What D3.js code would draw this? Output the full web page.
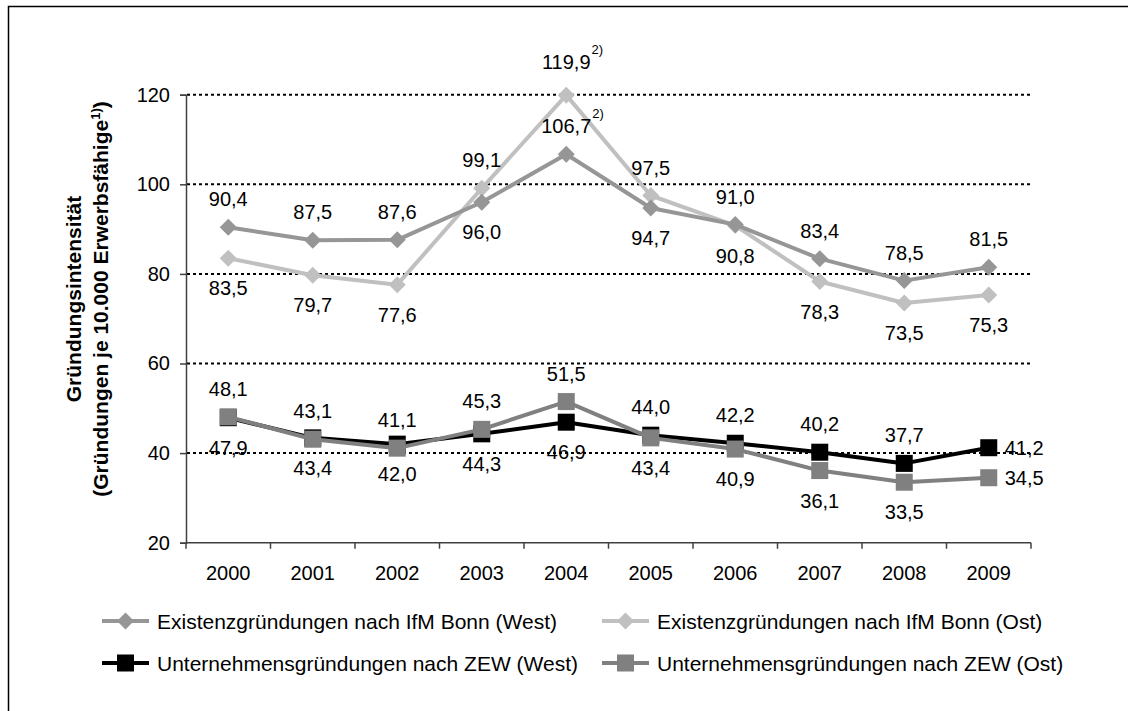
<!DOCTYPE html>
<html>
<head>
<meta charset="utf-8">
<script src="https://cdn.jsdelivr.net/npm/d3@7"></script>
<style>
  body { margin: 0; background: #fff; }
  svg { display: block; font-family: "Liberation Sans", Arial, sans-serif; }
  .grid { stroke: #000; stroke-width: 2; stroke-dasharray: 3,3; }
  .axis { stroke: #404040; stroke-width: 1.5; fill: none; }
  .lbl { font-size: 20px; fill: #000; }
  .leg { font-size: 21px; fill: #000; }
</style>
</head>
<body>
<svg id="svg"></svg>
<script>
// DATA
var years = [2000, 2001, 2002, 2003, 2004, 2005, 2006, 2007, 2008, 2009];
var yTicks = [20, 40, 60, 80, 100, 120];

var ifmWest = [90.4, 87.5, 87.6, 96.0, 106.7, 94.7, 91.0, 83.4, 78.5, 81.5];
var ifmOst  = [83.5, 79.7, 77.6, 99.1, 119.9, 97.5, 90.8, 78.3, 73.5, 75.3];
var zewWest = [47.9, 43.4, 42.0, 44.3, 46.9, 44.0, 42.2, 40.2, 37.7, 41.2];
var zewOst  = [48.1, 43.1, 41.1, 45.3, 51.5, 43.4, 40.9, 36.1, 33.5, 34.5];

var ifmNotes = ["", "", "", "", "2)", "", "", "", "", ""];

var seriesNames = [
  "Existenzgründungen nach IfM Bonn (West)",
  "Existenzgründungen nach IfM Bonn (Ost)",
  "Unternehmensgründungen nach ZEW (West)",
  "Unternehmensgründungen nach ZEW (Ost)"
];

// where each value label sits: a = above, b = below, r = right
var sideIfmWest = ["a","a","a","b","a","b","a","a","a","a"];
var sideIfmOst  = ["b","b","b","a","a","a","b","b","b","b"];
var sideZewWest = ["b","b","b","b","b","a","a","a","a","r"];
var sideZewOst  = ["a","a","a","a","a","b","b","b","b","r"];

var series = [
  {name: seriesNames[1], values: ifmOst,  color: "#c0c0c0", shape: "diamond", side: sideIfmOst,  notes: ifmNotes},
  {name: seriesNames[0], values: ifmWest, color: "#969696", shape: "diamond", side: sideIfmWest, notes: ifmNotes},
  {name: seriesNames[2], values: zewWest, color: "#000000", shape: "square",  side: sideZewWest, notes: null},
  {name: seriesNames[3], values: zewOst,  color: "#808080", shape: "square",  side: sideZewOst,  notes: null}
];

var svg = d3.select("#svg").attr("width", 1128).attr("height", 711);

// outer frame (runs off the right and bottom edges)
svg.append("rect")
  .attr("x", 8.5).attr("y", 6.5)
  .attr("width", 1300).attr("height", 900)
  .attr("fill", "none").attr("stroke", "#000").attr("stroke-width", 1.5);

var x = d3.scaleBand().domain(years).range([186, 1031]).padding(0);
var y = d3.scaleLinear().domain([20, 120]).range([542.7, 94.7]);
var cx = function(i){ return x(years[i]) + x.bandwidth() / 2; };

// gridlines
svg.selectAll(".grid").data(yTicks.slice(1)).enter()
  .append("line").attr("class", "grid")
  .attr("x1", 187).attr("x2", 1031)
  .attr("y1", d => y(d)).attr("y2", d => y(d));

// y axis
var yAxis = d3.axisLeft(y).tickValues(yTicks).tickSize(6).tickPadding(10);
var gy = svg.append("g").attr("transform", "translate(186,0)").call(yAxis);
gy.attr("font-family", null).attr("font-size", null);
gy.select(".domain").attr("stroke", "#404040").attr("stroke-width", 1.5);
gy.selectAll(".tick line").attr("stroke", "#404040").attr("stroke-width", 1.5);
gy.selectAll(".tick text").attr("class", "lbl");

// x axis (ticks between categories)
svg.append("line").attr("class", "axis")
  .attr("x1", 186).attr("x2", 1031).attr("y1", y(20)).attr("y2", y(20));
var bounds = years.map(d => x(d)).concat([x(years[years.length - 1]) + x.bandwidth()]);
svg.selectAll(".xtick").data(bounds).enter()
  .append("line").attr("class", "axis")
  .attr("x1", d => d).attr("x2", d => d)
  .attr("y1", y(20)).attr("y2", y(20) + 6);
svg.selectAll(".xlbl").data(years).enter()
  .append("text").attr("class", "lbl")
  .attr("x", d => x(d) + x.bandwidth() / 2)
  .attr("y", y(20) + 37)
  .attr("text-anchor", "middle")
  .text(d => d);

// y axis title
var title = svg.append("text")
  .attr("transform", "translate(80.5,299) rotate(-90)")
  .attr("text-anchor", "middle")
  .attr("font-size", 21).attr("font-weight", "bold");
title.append("tspan").attr("x", 0).attr("dy", 0).text("Gründungsintensität");
title.append("tspan").attr("x", 0).attr("dy", 27).text("(Gründungen je 10.000 Erwerbsfähige");
title.append("tspan").attr("font-size", 13).attr("dy", -8).text("1)");
title.append("tspan").attr("dy", 8).text(")");

// markers
function marker(g, shape, color, px, py) {
  if (shape === "diamond") {
    g.append("path")
      .attr("d", "M" + px + "," + (py - 8.5) + " L" + (px + 8.5) + "," + py +
                 " L" + px + "," + (py + 8.5) + " L" + (px - 8.5) + "," + py + " Z")
      .attr("fill", color);
  } else {
    g.append("rect")
      .attr("x", px - 8.5).attr("y", py - 8.5)
      .attr("width", 17).attr("height", 17)
      .attr("fill", color);
  }
}

var line = d3.line().x((d, i) => cx(i)).y(d => y(d));

series.forEach(function(s) {
  var g = svg.append("g");
  g.append("path").attr("d", line(s.values))
    .attr("fill", "none").attr("stroke", s.color).attr("stroke-width", 4)
    .attr("stroke-linejoin", "round");
  s.values.forEach(function(v, i) { marker(g, s.shape, s.color, cx(i), y(v)); });
});

// value labels
series.forEach(function(s) {
  s.values.forEach(function(v, i) {
    var px = cx(i), py = y(v), side = s.side[i];
    var up = (s.notes && s.notes[i]) ? (v > 110 ? 33 : 28) : 28;
    var t = svg.append("text").attr("class", "lbl")
      .attr("dominant-baseline", "central")
      .text(d3.format(".1f")(v).replace(".", ","));
    if (side === "r") {
      t.attr("x", px + 16).attr("y", py).attr("text-anchor", "start");
    } else {
      t.attr("x", px).attr("y", side === "a" ? py - up : py + 30).attr("text-anchor", "middle");
    }
    if (s.notes && s.notes[i]) {
      var w = t.node().getComputedTextLength();
      svg.append("text")
        .attr("x", px + w / 2 + 1).attr("y", py - up - 13)
        .attr("dominant-baseline", "central")
        .attr("font-size", 13)
        .text(s.notes[i]);
    }
  });
});

// legend
var legendItems = [
  {s: series[1], lx: 102, ly: 621},
  {s: series[0], lx: 602, ly: 621},
  {s: series[2], lx: 102, ly: 663},
  {s: series[3], lx: 602, ly: 663}
];
legendItems.forEach(function(d) {
  var g = svg.append("g");
  g.append("line")
    .attr("x1", d.lx).attr("x2", d.lx + 47)
    .attr("y1", d.ly).attr("y2", d.ly)
    .attr("stroke", d.s.color).attr("stroke-width", 4);
  marker(g, d.s.shape, d.s.color, d.lx + 23.5, d.ly);
  g.append("text").attr("class", "leg")
    .attr("x", d.lx + 55).attr("y", d.ly)
    .attr("dominant-baseline", "central")
    .text(d.s.name);
});
</script>
</body>
</html>
